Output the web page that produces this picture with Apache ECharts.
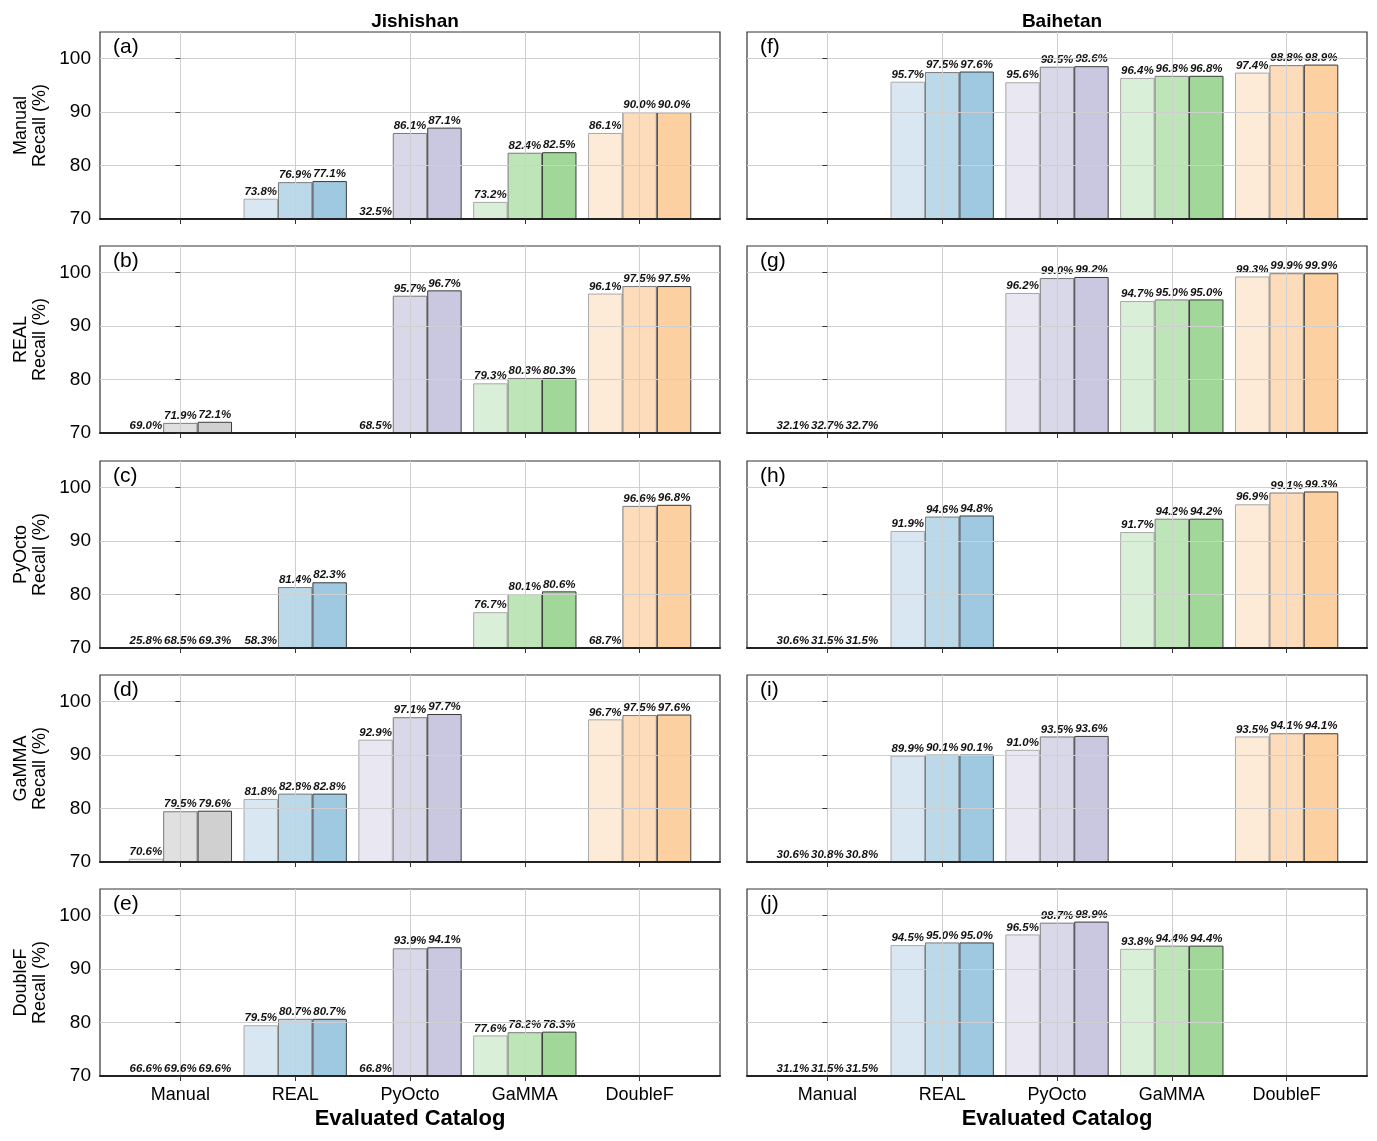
<!DOCTYPE html>
<html>
<head>
<meta charset="utf-8">
<script src="https://cdn.jsdelivr.net/npm/echarts@6/dist/echarts.min.js"></script>
<style>
  html, body { margin: 0; padding: 0; background: #fff; }
  #main { width: 1377px; height: 1141px; }
</style>
</head>
<body>
<div id="main"></div>
<script>
// evaluated catalogs (x categories) and reference catalogs (rows)
var catalogs = ['Manual', 'REAL', 'PyOcto', 'GaMMA', 'DoubleF'];
var regions = ['Jishishan', 'Baihetan'];
var tags = [['(a)', '(b)', '(c)', '(d)', '(e)'], ['(f)', '(g)', '(h)', '(i)', '(j)']];
var yTicks = [70, 80, 90, 100];

// recall (%) per evaluated catalog, three bars each (light -> dark)
var jishishanManual  = [[null, null, null], [73.8, 76.9, 77.1], [32.5, 86.1, 87.1], [73.2, 82.4, 82.5], [86.1, 90.0, 90.0]];
var jishishanREAL    = [[69.0, 71.9, 72.1], [null, null, null], [68.5, 95.7, 96.7], [79.3, 80.3, 80.3], [96.1, 97.5, 97.5]];
var jishishanPyOcto  = [[25.8, 68.5, 69.3], [58.3, 81.4, 82.3], [null, null, null], [76.7, 80.1, 80.6], [68.7, 96.6, 96.8]];
var jishishanGaMMA   = [[70.6, 79.5, 79.6], [81.8, 82.8, 82.8], [92.9, 97.1, 97.7], [null, null, null], [96.7, 97.5, 97.6]];
var jishishanDoubleF = [[66.6, 69.6, 69.6], [79.5, 80.7, 80.7], [66.8, 93.9, 94.1], [77.6, 78.2, 78.3], [null, null, null]];

var baihetanManual  = [[null, null, null], [95.7, 97.5, 97.6], [95.6, 98.5, 98.6], [96.4, 96.8, 96.8], [97.4, 98.8, 98.9]];
var baihetanREAL    = [[32.1, 32.7, 32.7], [null, null, null], [96.2, 99.0, 99.2], [94.7, 95.0, 95.0], [99.3, 99.9, 99.9]];
var baihetanPyOcto  = [[30.6, 31.5, 31.5], [91.9, 94.6, 94.8], [null, null, null], [91.7, 94.2, 94.2], [96.9, 99.1, 99.3]];
var baihetanGaMMA   = [[30.6, 30.8, 30.8], [89.9, 90.1, 90.1], [91.0, 93.5, 93.6], [null, null, null], [93.5, 94.1, 94.1]];
var baihetanDoubleF = [[31.1, 31.5, 31.5], [94.5, 95.0, 95.0], [96.5, 98.7, 98.9], [93.8, 94.4, 94.4], [null, null, null]];

var panels = [
  [jishishanManual, jishishanREAL, jishishanPyOcto, jishishanGaMMA, jishishanDoubleF],
  [baihetanManual, baihetanREAL, baihetanPyOcto, baihetanGaMMA, baihetanDoubleF]
];

// fill colours per evaluated catalog, light -> dark
var fills = [
  ['#f0f0f0', '#e0e0e0', '#d0d0d0'],
  ['#d8e7f1', '#bcd9ea', '#9fc9e0'],
  ['#e8e7f2', '#d9d8e8', '#cac8e1'],
  ['#daefd8', '#bee5b7', '#a2d79a'],
  ['#fdebd8', '#fddcbb', '#fcd0a1']
];
var edges = ['#a8a8a8', '#7a7a7a', '#3a3a3a'];
var offsets = [-0.3, 0, 0.3];

var Y_MIN = 70, Y_MAX = 105;
var X_MIN = -0.7, X_MAX = 4.7;
var lefts = [100, 747];
var tops = [32, 246, 461, 675, 889];
var W = 620, H = 187;
var barW = W / (X_MAX - X_MIN) * 0.3;

var labelStyle = {
  show: true, position: 'top', distance: 1, opacity: 1,
  fontSize: 11.5, fontStyle: 'italic', fontWeight: 'bold', color: '#111',
  fontFamily: 'Liberation Sans, Arial'
};

var myChart = echarts.init(document.getElementById('main'));

var grids = [], xAxes = [], yAxes = [], series = [], graphics = [];
var idx = 0;
for (var c = 0; c < 2; c++) {
  for (var r = 0; r < 5; r++) {
    var last = r === 4;
    grids.push({
      left: lefts[c], top: tops[r], width: W, height: H,
      show: true, borderColor: '#333', borderWidth: 1.2, backgroundColor: '#fff'
    });
    xAxes.push({
      type: 'value', gridIndex: idx, min: X_MIN, max: X_MAX, z: 3,
      axisLine: { show: true, onZero: false, lineStyle: { color: '#222', width: 2 } },
      axisTick: { show: true, customValues: [0, 1, 2, 3, 4], length: 5, lineStyle: { color: '#333', width: 1 } },
      axisLabel: {
        show: last, customValues: [0, 1, 2, 3, 4], margin: 10,
        fontSize: 18, color: '#000', fontFamily: 'Liberation Sans, Arial',
        formatter: function (v) { return catalogs[Math.round(v)]; }
      },
      splitLine: { show: true, lineStyle: { color: '#cfcfcf', width: 1 } },
      name: last ? 'Evaluated Catalog' : '', nameLocation: 'middle', nameGap: 32,
      nameTextStyle: { fontSize: 22, fontWeight: 'bold', color: '#000', fontFamily: 'Liberation Sans, Arial' }
    });
    yAxes.push({
      type: 'value', gridIndex: idx, min: Y_MIN, max: Y_MAX, z: 3,
      axisLine: { show: false },
      axisTick: { show: true, customValues: yTicks, length: 5, lineStyle: { color: '#333', width: 1 } },
      axisLabel: {
        show: c === 0, customValues: yTicks, margin: 9,
        fontSize: 19, color: '#000', fontFamily: 'Liberation Sans, Arial'
      },
      splitLine: { show: true, lineStyle: { color: '#cfcfcf', width: 1 } },
      name: c === 0 ? catalogs[r] + '\nRecall (%)' : '',
      nameLocation: 'middle', nameRotate: 90, nameGap: 50,
      nameTextStyle: { fontSize: 18, color: '#000', lineHeight: 19, fontFamily: 'Liberation Sans, Arial' }
    });

    var rows = panels[c][r];
    var below = [];
    for (var s = 0; s < 3; s++) {
      var data = [];
      for (var i = 0; i < catalogs.length; i++) {
        var v = rows[i][s];
        if (v == null) continue;
        if (v < Y_MIN) {
          // bar falls under the axis floor: only its label is drawn, on the floor
          below.push([i + offsets[s], Y_MIN, v]);
          continue;
        }
        data.push({
          value: [i + offsets[s], v],
          itemStyle: { color: fills[i][s], borderColor: edges[s], borderWidth: 1 }
        });
      }
      series.push({
        type: 'bar', xAxisIndex: idx, yAxisIndex: idx,
        barWidth: barW, barGap: '-100%', z: 2,
        animation: false,
        data: data,
        label: Object.assign({}, labelStyle, {
          formatter: function (p) { return p.value[1].toFixed(1) + '%'; }
        })
      });
    }
    series.push({
      type: 'scatter', xAxisIndex: idx, yAxisIndex: idx,
      symbol: 'rect', symbolSize: 1, itemStyle: { color: 'rgba(0,0,0,0)' }, z: 4, clip: false,
      animation: false, silent: true,
      data: below,
      label: Object.assign({}, labelStyle, {
        formatter: function (p) { return p.value[2].toFixed(1) + '%'; }
      })
    });

    graphics.push({
      type: 'text', left: lefts[c] + 13, top: tops[r] + 5, z: 10,
      style: { text: tags[c][r], fontSize: 21, fill: '#000', fontFamily: 'Liberation Sans, Arial' }
    });
    idx++;
  }
}

myChart.setOption({
  backgroundColor: '#fff',
  animation: false,
  title: regions.map(function (name, k) {
    return {
      text: name, left: lefts[k] + W / 2, top: 7, textAlign: 'center',
      textStyle: { fontSize: 19, fontWeight: 'bold', color: '#000', fontFamily: 'Liberation Sans, Arial' }
    };
  }),
  grid: grids,
  xAxis: xAxes,
  yAxis: yAxes,
  series: series,
  graphic: graphics
});
</script>
</body>
</html>
